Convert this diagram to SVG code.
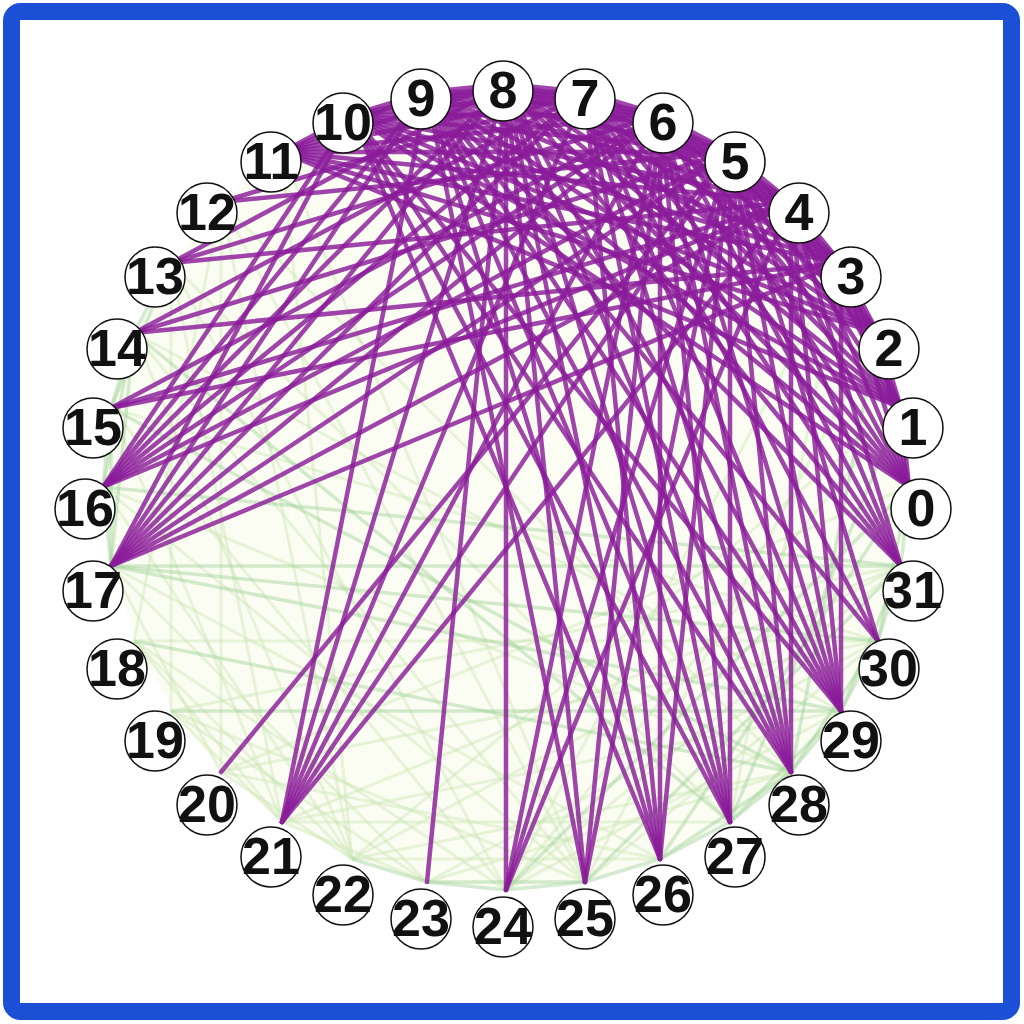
<svg xmlns="http://www.w3.org/2000/svg" width="1024" height="1024" viewBox="0 0 1024 1024">
<style>
.p{stroke:#8a1c9a;stroke-width:4.5;stroke-opacity:.82;fill:none;stroke-linecap:round}
.g{stroke:#9fd39a;stroke-width:3.5;stroke-opacity:.45;fill:none}
.f{stroke:#cde7b6;stroke-width:3;stroke-opacity:.45;fill:none}
.n circle{fill:#fff;stroke:#111;stroke-width:1.5}
.n text{font-family:"Liberation Sans",Arial,sans-serif;font-weight:bold;font-size:52px;text-anchor:middle;fill:#111}
</style>
<rect width="1024" height="1024" fill="#fff"/>
<circle cx="506" cy="487" r="400" fill="#fbfdf3"/>
<g id="connectors">
<g id="weak">
<path class="f" d="M221 202L221 772"/><path class="f" d="M221 202L352 859"/><path class="f" d="M221 202L585 882"/><path class="f" d="M221 202L791 772"/>
<path class="f" d="M171 263L282 822"/><path class="f" d="M171 263L506 890"/><path class="f" d="M171 263L730 822"/>
<path class="f" d="M134 333L352 859"/><path class="f" d="M134 333L585 882"/><path class="f" d="M134 333L841 711"/>
<path class="f" d="M111 408L282 822"/><path class="f" d="M111 408L506 890"/><path class="f" d="M111 408L878 641"/>
<path class="f" d="M103 487L352 859"/><path class="f" d="M103 487L585 882"/><path class="f" d="M103 487L791 772"/>
<path class="f" d="M111 566L427 882"/><path class="f" d="M111 566L660 859"/>
<path class="f" d="M134 641L506 890"/><path class="f" d="M134 641L878 641"/><path class="f" d="M134 641L352 859"/>
<path class="f" d="M171 711L585 882"/><path class="f" d="M171 711L901 566"/><path class="f" d="M171 711L427 882"/>
<path class="f" d="M221 772L660 859"/><path class="f" d="M221 772L878 641"/><path class="f" d="M221 772L909 487"/>
<path class="f" d="M282 822L730 822"/><path class="f" d="M282 822L841 711"/><path class="f" d="M282 822L901 566"/>
<path class="f" d="M352 859L660 859"/><path class="f" d="M352 859L791 772"/><path class="f" d="M352 859L901 566"/>
<path class="f" d="M427 882L791 772"/><path class="f" d="M427 882L878 641"/>
<path class="f" d="M506 890L841 711"/><path class="f" d="M506 890L901 566"/><path class="f" d="M585 882L878 641"/>
<path class="f" d="M901 408L352 859"/><path class="f" d="M901 408L506 890"/><path class="f" d="M878 333L585 882"/>
<path class="f" d="M841 263L730 822"/><path class="f" d="M841 263L506 890"/>
<path class="f" d="M282 152L352 859"/><path class="f" d="M282 152L585 882"/>
<path class="f" d="M221 202L134 641"/><path class="f" d="M171 263L171 711"/><path class="f" d="M111 566L221 772"/>
<path class="f" d="M134 641L282 822"/><path class="f" d="M171 711L282 822"/><path class="f" d="M221 772L352 859"/><path class="f" d="M282 822L427 882"/>
</g>
<g id="medium">
<path class="g" d="M171 263L134 333"/><path class="g" d="M134 333L111 408"/><path class="g" d="M111 408L103 487"/><path class="g" d="M103 487L111 566"/>
<path class="g" d="M171 263L111 408"/><path class="g" d="M134 333L103 487"/><path class="g" d="M111 408L111 566"/><path class="g" d="M134 333L111 566"/>
<path class="g" d="M352 859L427 882"/><path class="g" d="M427 882L506 890"/><path class="g" d="M506 890L585 882"/><path class="g" d="M427 882L585 882"/>
<path class="g" d="M585 882L660 859"/><path class="g" d="M660 859L730 822"/><path class="g" d="M730 822L791 772"/><path class="g" d="M791 772L841 711"/>
<path class="g" d="M841 711L878 641"/><path class="g" d="M878 641L901 566"/><path class="g" d="M901 566L909 487"/>
<path class="g" d="M660 859L791 772"/><path class="g" d="M730 822L841 711"/><path class="g" d="M791 772L878 641"/><path class="g" d="M841 711L901 566"/><path class="g" d="M878 641L909 487"/>
<path class="g" d="M111 566L841 711"/><path class="g" d="M111 566L878 641"/><path class="g" d="M111 566L901 566"/><path class="g" d="M103 487L901 566"/>
<path class="g" d="M134 641L791 772"/><path class="g" d="M134 333L730 822"/><path class="g" d="M111 408L791 772"/><path class="g" d="M171 711L841 711"/>
<path class="g" d="M909 487L660 859"/><path class="g" d="M901 408L730 822"/><path class="g" d="M878 333L791 772"/><path class="g" d="M901 566L585 882"/><path class="g" d="M909 487L506 890"/>
</g>
<g id="strong">
<path class="p" d="M909 487L901 408"/><path class="p" d="M901 408L878 333"/><path class="p" d="M878 333L841 263"/><path class="p" d="M841 263L791 202"/>
<path class="p" d="M791 202L730 152"/><path class="p" d="M730 152L660 115"/><path class="p" d="M660 115L585 92"/><path class="p" d="M585 92L506 84"/>
<path class="p" d="M506 84L427 92"/><path class="p" d="M427 92L352 115"/><path class="p" d="M352 115L282 152"/>
<path class="p" d="M909 487L878 333"/><path class="p" d="M901 408L841 263"/><path class="p" d="M878 333L791 202"/><path class="p" d="M841 263L730 152"/>
<path class="p" d="M791 202L660 115"/><path class="p" d="M730 152L585 92"/><path class="p" d="M660 115L506 84"/><path class="p" d="M585 92L427 92"/>
<path class="p" d="M506 84L352 115"/><path class="p" d="M427 92L282 152"/>
<path class="p" d="M909 487L841 263"/><path class="p" d="M901 408L791 202"/><path class="p" d="M878 333L730 152"/><path class="p" d="M841 263L660 115"/>
<path class="p" d="M791 202L585 92"/><path class="p" d="M730 152L506 84"/><path class="p" d="M660 115L427 92"/><path class="p" d="M585 92L352 115"/><path class="p" d="M506 84L282 152"/>
<path class="p" d="M909 487L791 202"/><path class="p" d="M901 408L730 152"/><path class="p" d="M878 333L660 115"/><path class="p" d="M841 263L585 92"/>
<path class="p" d="M791 202L506 84"/><path class="p" d="M730 152L427 92"/><path class="p" d="M660 115L352 115"/><path class="p" d="M585 92L282 152"/>
<path class="p" d="M909 487L730 152"/><path class="p" d="M901 408L660 115"/><path class="p" d="M878 333L585 92"/><path class="p" d="M841 263L506 84"/>
<path class="p" d="M791 202L427 92"/><path class="p" d="M730 152L352 115"/><path class="p" d="M660 115L282 152"/>
<path class="p" d="M909 487L660 115"/><path class="p" d="M901 408L585 92"/><path class="p" d="M878 333L506 84"/><path class="p" d="M841 263L427 92"/>
<path class="p" d="M791 202L352 115"/><path class="p" d="M730 152L282 152"/>
<path class="p" d="M909 487L585 92"/><path class="p" d="M901 408L506 84"/><path class="p" d="M878 333L427 92"/><path class="p" d="M841 263L352 115"/><path class="p" d="M791 202L282 152"/>
<path class="p" d="M909 487L506 84"/><path class="p" d="M901 408L427 92"/><path class="p" d="M878 333L352 115"/><path class="p" d="M841 263L282 152"/>
<path class="p" d="M909 487L427 92"/><path class="p" d="M901 408L352 115"/><path class="p" d="M878 333L282 152"/>
<path class="p" d="M909 487L352 115"/><path class="p" d="M901 408L282 152"/>
<path class="p" d="M221 202L730 152"/><path class="p" d="M221 202L585 92"/>
<path class="p" d="M171 263L791 202"/><path class="p" d="M171 263L660 115"/><path class="p" d="M171 263L506 84"/>
<path class="p" d="M134 333L841 263"/><path class="p" d="M134 333L730 152"/><path class="p" d="M134 333L585 92"/>
<path class="p" d="M111 408L841 263"/><path class="p" d="M111 408L791 202"/><path class="p" d="M111 408L660 115"/>
<path class="p" d="M103 487L791 202"/><path class="p" d="M103 487L730 152"/><path class="p" d="M103 487L660 115"/><path class="p" d="M103 487L585 92"/>
<path class="p" d="M103 487L506 84"/><path class="p" d="M103 487L427 92"/><path class="p" d="M103 487L352 115"/>
<path class="p" d="M111 566L841 263"/><path class="p" d="M111 566L791 202"/><path class="p" d="M111 566L730 152"/><path class="p" d="M111 566L660 115"/>
<path class="p" d="M111 566L585 92"/><path class="p" d="M111 566L506 84"/><path class="p" d="M111 566L427 92"/><path class="p" d="M111 566L352 115"/>
<path class="p" d="M221 772L730 152"/>
<path class="p" d="M282 822L791 202"/><path class="p" d="M282 822L730 152"/><path class="p" d="M282 822L660 115"/><path class="p" d="M282 822L585 92"/><path class="p" d="M282 822L506 84"/><path class="p" d="M282 822L427 92"/>
<path class="p" d="M427 882L506 84"/>
<path class="p" d="M506 890L791 202"/><path class="p" d="M506 890L730 152"/><path class="p" d="M506 890L660 115"/><path class="p" d="M506 890L506 84"/>
<path class="p" d="M585 882L730 152"/><path class="p" d="M585 882L660 115"/><path class="p" d="M585 882L506 84"/><path class="p" d="M585 882L427 92"/>
<path class="p" d="M660 859L730 152"/><path class="p" d="M660 859L660 115"/><path class="p" d="M660 859L585 92"/><path class="p" d="M660 859L506 84"/>
<path class="p" d="M660 859L427 92"/><path class="p" d="M660 859L352 115"/>
<path class="p" d="M730 822L730 152"/><path class="p" d="M730 822L660 115"/><path class="p" d="M730 822L585 92"/><path class="p" d="M730 822L506 84"/>
<path class="p" d="M730 822L427 92"/><path class="p" d="M730 822L352 115"/>
<path class="p" d="M791 772L791 202"/><path class="p" d="M791 772L730 152"/><path class="p" d="M791 772L660 115"/><path class="p" d="M791 772L585 92"/>
<path class="p" d="M791 772L506 84"/><path class="p" d="M791 772L427 92"/><path class="p" d="M791 772L352 115"/>
<path class="p" d="M841 711L841 263"/><path class="p" d="M841 711L791 202"/><path class="p" d="M841 711L730 152"/><path class="p" d="M841 711L660 115"/>
<path class="p" d="M841 711L585 92"/><path class="p" d="M841 711L506 84"/><path class="p" d="M841 711L427 92"/><path class="p" d="M841 711L352 115"/>
<path class="p" d="M878 641L730 152"/><path class="p" d="M878 641L585 92"/><path class="p" d="M878 641L427 92"/>
<path class="p" d="M901 566L791 202"/><path class="p" d="M901 566L730 152"/><path class="p" d="M901 566L660 115"/><path class="p" d="M901 566L585 92"/>
<path class="p" d="M901 566L506 84"/><path class="p" d="M901 566L427 92"/>
</g>
</g>
<g id="nodes">
<g id="n0" class="n"><circle cx="921" cy="509" r="30"/><text x="921" y="526">0</text></g>
<g id="n1" class="n"><circle cx="913" cy="428" r="30"/><text x="913" y="445">1</text></g>
<g id="n2" class="n"><circle cx="889" cy="349" r="30"/><text x="889" y="366">2</text></g>
<g id="n3" class="n"><circle cx="851" cy="277" r="30"/><text x="851" y="294">3</text></g>
<g id="n4" class="n"><circle cx="799" cy="213" r="30"/><text x="799" y="230">4</text></g>
<g id="n5" class="n"><circle cx="735" cy="162" r="30"/><text x="735" y="179">5</text></g>
<g id="n6" class="n"><circle cx="663" cy="123" r="30"/><text x="663" y="140">6</text></g>
<g id="n7" class="n"><circle cx="585" cy="99" r="30"/><text x="585" y="116">7</text></g>
<g id="n8" class="n"><circle cx="503" cy="91" r="30"/><text x="503" y="108">8</text></g>
<g id="n9" class="n"><circle cx="421" cy="99" r="30"/><text x="421" y="116">9</text></g>
<g id="n10" class="n"><circle cx="343" cy="123" r="30"/><text x="343" y="140">10</text></g>
<g id="n11" class="n"><circle cx="271" cy="162" r="30"/><text x="271" y="179">11</text></g>
<g id="n12" class="n"><circle cx="207" cy="213" r="30"/><text x="207" y="230">12</text></g>
<g id="n13" class="n"><circle cx="155" cy="277" r="30"/><text x="155" y="294">13</text></g>
<g id="n14" class="n"><circle cx="117" cy="349" r="30"/><text x="117" y="366">14</text></g>
<g id="n15" class="n"><circle cx="93" cy="428" r="30"/><text x="93" y="445">15</text></g>
<g id="n16" class="n"><circle cx="85" cy="509" r="30"/><text x="85" y="526">16</text></g>
<g id="n17" class="n"><circle cx="93" cy="591" r="30"/><text x="93" y="608">17</text></g>
<g id="n18" class="n"><circle cx="117" cy="669" r="30"/><text x="117" y="686">18</text></g>
<g id="n19" class="n"><circle cx="155" cy="741" r="30"/><text x="155" y="758">19</text></g>
<g id="n20" class="n"><circle cx="207" cy="805" r="30"/><text x="207" y="822">20</text></g>
<g id="n21" class="n"><circle cx="271" cy="857" r="30"/><text x="271" y="874">21</text></g>
<g id="n22" class="n"><circle cx="343" cy="895" r="30"/><text x="343" y="912">22</text></g>
<g id="n23" class="n"><circle cx="421" cy="919" r="30"/><text x="421" y="936">23</text></g>
<g id="n24" class="n"><circle cx="503" cy="927" r="30"/><text x="503" y="944">24</text></g>
<g id="n25" class="n"><circle cx="585" cy="919" r="30"/><text x="585" y="936">25</text></g>
<g id="n26" class="n"><circle cx="663" cy="895" r="30"/><text x="663" y="912">26</text></g>
<g id="n27" class="n"><circle cx="735" cy="857" r="30"/><text x="735" y="874">27</text></g>
<g id="n28" class="n"><circle cx="799" cy="805" r="30"/><text x="799" y="822">28</text></g>
<g id="n29" class="n"><circle cx="851" cy="741" r="30"/><text x="851" y="758">29</text></g>
<g id="n30" class="n"><circle cx="889" cy="669" r="30"/><text x="889" y="686">30</text></g>
<g id="n31" class="n"><circle cx="913" cy="591" r="30"/><text x="913" y="608">31</text></g>
</g>
<rect x="11.5" y="11.5" width="1000" height="1000" rx="9" fill="none" stroke="#1a4fd6" stroke-width="17"/>
</svg>
